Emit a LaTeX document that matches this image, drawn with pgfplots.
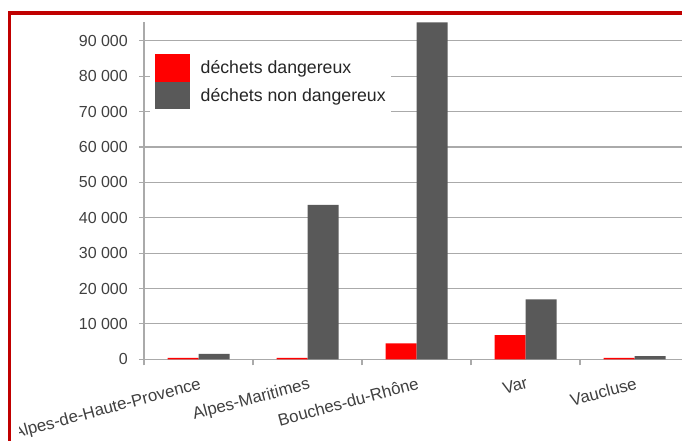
\documentclass[border=0pt]{standalone}
\usepackage{fontspec}
\setmainfont{Liberation Sans}
\usepackage{pgfplots}
\pgfplotsset{compat=1.18}
\definecolor{barred}{HTML}{FF0000}
\definecolor{bargrey}{HTML}{595959}
\definecolor{gridc}{HTML}{AAAAAA}
\definecolor{txt}{HTML}{404040}
\definecolor{border}{HTML}{C00000}
\begin{document}
\begin{tikzpicture}[x=1pt,y=1pt]
\useasboundingbox (0,0) rectangle (682,441);
\clip (0,0) rectangle (682,441);
\begin{scope}
\clip (19,0) rectangle (682,441);
\begin{axis}[
  at={(144pt,81.7pt)}, anchor=south west,
  scale only axis, width=545pt, height=337pt,
  xmin=-0.5, xmax=4.5, ymin=0, ymax=95200,
  ybar=0pt, bar width=31pt,
  axis x line*=bottom, axis y line*=left,
  axis line style={-, color=gridc, line width=1.2pt},
  xtick={0,1,2,3,4},
  xticklabels={Alpes-de-Haute-Provence,Alpes-Maritimes,Bouches-du-Rhône,Var,Vaucluse},
  minor xtick={-0.5,0.5,1.5,2.5,3.5,4.5},
  major x tick style={draw=none},
  minor x tick style={color=gridc, line width=1.2pt},
  minor tick length=6pt,
  ytick={0,10000,...,90000},
  major y tick style={color=gridc, line width=1.2pt},
  major tick length=5pt,
  tick align=outside,
  ymajorgrids,
  grid style={color=gridc, line width=1.2pt},
  scaled y ticks=false,
  /pgf/number format/assume math mode=true,
  yticklabel={\pgfmathprintnumber[1000 sep={\ }]{\tick}},
  yticklabel style={font=\fontsize{16}{19}\selectfont, color=txt, anchor=east, inner sep=0pt, xshift=-11pt},
  xticklabel style={font=\fontsize{16.8}{19}\selectfont, color=txt, rotate=15, anchor=north east, inner sep=0pt, xshift=-3pt, yshift=-12pt},
  legend style={at={(0.0114,0.9207)}, anchor=north west, draw=none, fill=white,
    inner xsep=5pt, inner ysep=5pt, row sep=0pt,
    font=\fontsize{17.7}{20}\selectfont, text=black!85,
    nodes={inner sep=0pt},
    /tikz/every odd column/.append style={column sep=10.3pt}},
  legend cell align=left,
]
\addplot[fill=barred, draw=none, legend image code/.code={\fill[barred] (0pt,-13.75pt) rectangle (35pt,13.75pt);}]
  coordinates {(0,400) (1,400) (2,4500) (3,6860) (4,400)};
\addlegendentry{déchets dangereux}
\addplot[fill=bargrey, draw=none, legend image code/.code={\fill[bargrey] (0pt,-13.75pt) rectangle (35pt,13.75pt);}]
  coordinates {(0,1500) (1,43600) (2,95200) (3,16950) (4,900)};
\addlegendentry{déchets non dangereux}
\end{axis}
\end{scope}
\draw[border, line width=3.8pt, line join=miter] (9.5,-5) -- (9.5,428.2) -- (690,428.2);
\end{tikzpicture}
\end{document}
